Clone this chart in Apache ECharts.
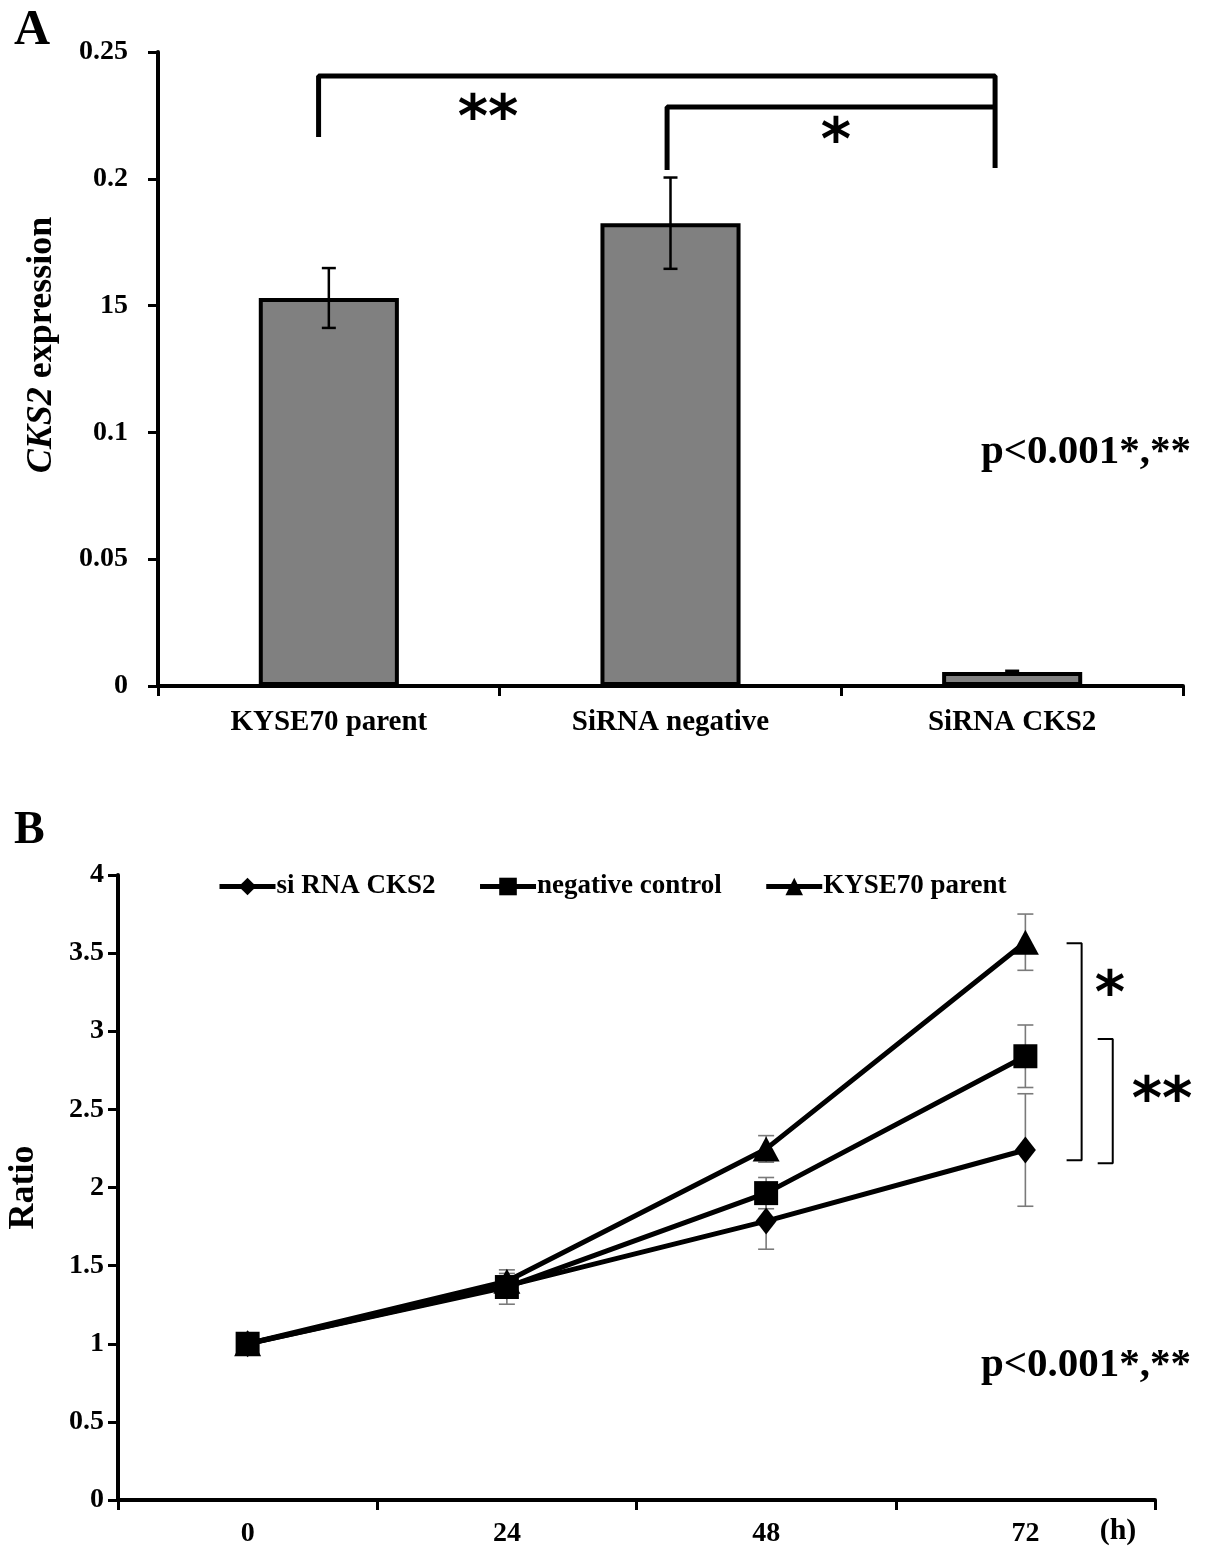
<!DOCTYPE html>
<html>
<head>
<meta charset="utf-8">
<script src="https://cdn.jsdelivr.net/npm/echarts@6/dist/echarts.min.js"></script>
<style>
  html, body { margin: 0; padding: 0; background: #fff; }
  #chart { width: 1205px; height: 1559px; }
</style>
</head>
<body>
<div id="chart"></div>
<script>
// panel A: CKS2 expression
const groupsA = ['KYSE70 parent', 'SiRNA negative', 'SiRNA CKS2'];
const exprA = [0.153, 0.1825, 0.0055];
const exprErrA = [0.0118, 0.018, 0.0005];
const yTicksA = ['0', '0.05', '0.1', '15', '0.2', '0.25'];
// significance brackets, [x on category index scale, y]
const bracketLongA = [[-0.03, 0.2165], [-0.03, 0.2405], [1.95, 0.2405], [1.95, 0.2043]];
const bracketShortA = [[0.99, 0.2035], [0.99, 0.2283], [1.95, 0.2283]];

// panel B: growth ratio
const hours = ['0', '24', '48', '72'];
const siCks2 = [1.0, 1.37, 1.785, 2.24];
const siCks2Err = [0, 0.03, 0.18, 0.36];
const negCtrl = [1.0, 1.363, 1.964, 2.84];
const negCtrlErr = [0, 0.11, 0.1, 0.2];
const parent = [1.0, 1.40, 2.247, 3.57];
const parentErr = [0, 0.05, 0.085, 0.18];
const bracketOuterB = [[3.159, 3.564], [3.217, 3.564], [3.217, 2.175], [3.159, 2.175]];
const bracketInnerB = [[3.279, 2.95], [3.337, 2.95], [3.337, 2.156], [3.279, 2.156]];

const SERIF = '"Liberation Serif", "Times New Roman", serif';
const STAR = '"DejaVu Sans", sans-serif';

const errRowsA = exprA.map((v, i) => [i, v - exprErrA[i], v + exprErrA[i]]);
const errRowsB = [];
[[siCks2, siCks2Err], [negCtrl, negCtrlErr], [parent, parentErr]].forEach(([vals, errs]) => {
  vals.forEach((v, i) => {
    if (errs[i] > 0) errRowsB.push([i, v - errs[i], v + errs[i]]);
  });
});

function errorBar(capHalf, color, width) {
  return function (params, api) {
    const x = api.value(0);
    const lo = api.coord([x, api.value(1)]);
    const hi = api.coord([x, api.value(2)]);
    const style = { stroke: color, lineWidth: width };
    return {
      type: 'group',
      children: [
        { type: 'line', shape: { x1: lo[0], y1: lo[1], x2: hi[0], y2: hi[1] }, style },
        { type: 'line', shape: { x1: lo[0] - capHalf, y1: lo[1], x2: lo[0] + capHalf, y2: lo[1] }, style },
        { type: 'line', shape: { x1: hi[0] - capHalf, y1: hi[1], x2: hi[0] + capHalf, y2: hi[1] }, style },
      ],
    };
  };
}

const labelFont = { color: '#000', fontFamily: SERIF, fontWeight: 'bold', fontSize: 28 };

function lineSeries(name, data, symbol, size) {
  return {
    name, type: 'line', xAxisIndex: 2, yAxisIndex: 1, data,
    symbol, symbolSize: size,
    lineStyle: { color: '#000', width: 5 },
    itemStyle: { color: '#000' },
    z: 3,
  };
}

function bracket(data, xIdx, yIdx, width) {
  return {
    type: 'line', xAxisIndex: xIdx, yAxisIndex: yIdx, data,
    symbol: 'none', lineStyle: { color: '#000', width }, silent: true, z: 4,
  };
}

function star(text, x, y) {
  return {
    type: 'text', x, y,
    style: { text, align: 'center', verticalAlign: 'middle', font: `bold 58px ${STAR}`, fill: '#000' },
  };
}

const myChart = echarts.init(document.getElementById('chart'));

const option = {
  backgroundColor: '#fff',
  animation: false,
  grid: [
    { left: 158, top: 52, right: 22, height: 634, outerBoundsMode: 'none', containLabel: false },
    { left: 118, top: 875, right: 50, height: 625, outerBoundsMode: 'none', containLabel: false },
  ],
  xAxis: [
    {
      type: 'category', gridIndex: 0, data: groupsA, boundaryGap: true,
      axisLine: { onZero: false, lineStyle: { color: '#000', width: 4 } },
      axisTick: { show: true, alignWithLabel: false, length: 10, lineStyle: { color: '#000', width: 3 } },
      axisLabel: { ...labelFont, fontSize: 29, margin: 22 },
    },
    { type: 'value', gridIndex: 0, min: -0.5, max: 2.5, show: false },
    {
      type: 'category', gridIndex: 1, data: hours, boundaryGap: true,
      axisLine: { onZero: false, lineStyle: { color: '#000', width: 4 } },
      axisTick: { show: true, alignWithLabel: false, length: 10, lineStyle: { color: '#000', width: 3 } },
      axisLabel: { ...labelFont, margin: 20 },
    },
    { type: 'value', gridIndex: 1, min: -0.5, max: 3.5, show: false },
  ],
  yAxis: [
    {
      type: 'value', gridIndex: 0, min: 0, max: 0.25, interval: 0.05,
      axisLine: { show: true, onZero: false, lineStyle: { color: '#000', width: 4 } },
      axisTick: { show: true, length: 10, lineStyle: { color: '#000', width: 3 } },
      splitLine: { show: false },
      axisLabel: {
        ...labelFont, margin: 30,
        formatter: (v) => yTicksA[Math.round(v / 0.05)],
      },
    },
    {
      type: 'value', gridIndex: 1, min: 0, max: 4, interval: 0.5,
      name: 'Ratio', nameLocation: 'middle', nameGap: 76,
      nameTextStyle: { color: '#000', fontFamily: SERIF, fontWeight: 'bold', fontSize: 36 },
      axisLine: { show: true, onZero: false, lineStyle: { color: '#000', width: 4 } },
      axisTick: { show: true, length: 10, lineStyle: { color: '#000', width: 3 } },
      splitLine: { show: false },
      axisLabel: { ...labelFont, margin: 14 },
    },
  ],
  legend: {
    data: ['si RNA CKS2', 'negative control', 'KYSE70 parent'],
    left: 212, top: 868, itemWidth: 56, itemHeight: 22, itemGap: 42,
    lineStyle: { width: 5, color: '#000' },
    textStyle: { color: '#000', fontFamily: SERIF, fontWeight: 'bold', fontSize: 27, padding: [0, 0, 0, -4] },
  },
  series: [
    {
      type: 'bar', xAxisIndex: 0, yAxisIndex: 0, data: exprA, barWidth: '41%',
      itemStyle: { color: '#808080', borderColor: '#000', borderWidth: 4 },
    },
    {
      type: 'custom', xAxisIndex: 0, yAxisIndex: 0, data: errRowsA,
      encode: { x: 0, y: [1, 2] }, renderItem: errorBar(7, '#000', 2.5), z: 5,
    },
    bracket(bracketLongA, 1, 0, 5),
    bracket(bracketShortA, 1, 0, 5),
    {
      type: 'custom', xAxisIndex: 2, yAxisIndex: 1, data: errRowsB,
      encode: { x: 0, y: [1, 2] }, renderItem: errorBar(8, '#7a7a7a', 1.6), z: 2,
    },
    lineSeries('si RNA CKS2', siCks2, 'diamond', [21, 27]),
    lineSeries('KYSE70 parent', parent, 'triangle', [27, 25]),
    lineSeries('negative control', negCtrl, 'rect', 24),
    bracket(bracketOuterB, 3, 1, 2),
    bracket(bracketInnerB, 3, 1, 2),
  ],
  graphic: [
    { type: 'text', left: 14, top: 6, style: { text: 'A', font: `bold 50px ${SERIF}`, fill: '#000' } },
    { type: 'text', left: 14, top: 808, style: { text: 'B', font: `bold 46px ${SERIF}`, fill: '#000' } },
    {
      type: 'text', x: 42, y: 345, rotation: Math.PI / 2,
      style: {
        text: '{i|CKS2} expression', align: 'center', verticalAlign: 'middle',
        font: `bold 36px ${SERIF}`, fill: '#000',
        rich: { i: { fontStyle: 'italic', fontWeight: 'bold', fontSize: 36, fontFamily: SERIF } },
      },
    },
    star('**', 488, 121),
    star('*', 836, 144),
    star('*', 1110, 997),
    star('**', 1162, 1103),
    { type: 'text', x: 1086, y: 452, style: { text: 'p<0.001*,**', align: 'center', verticalAlign: 'middle', font: `bold 41px ${SERIF}`, fill: '#000' } },
    { type: 'text', x: 1086, y: 1365, style: { text: 'p<0.001*,**', align: 'center', verticalAlign: 'middle', font: `bold 41px ${SERIF}`, fill: '#000' } },
    { type: 'text', x: 1118, y: 1531, style: { text: '(h)', align: 'center', verticalAlign: 'middle', font: `bold 30px ${SERIF}`, fill: '#000' } },
  ],
};

myChart.setOption(option);
</script>
</body>
</html>
